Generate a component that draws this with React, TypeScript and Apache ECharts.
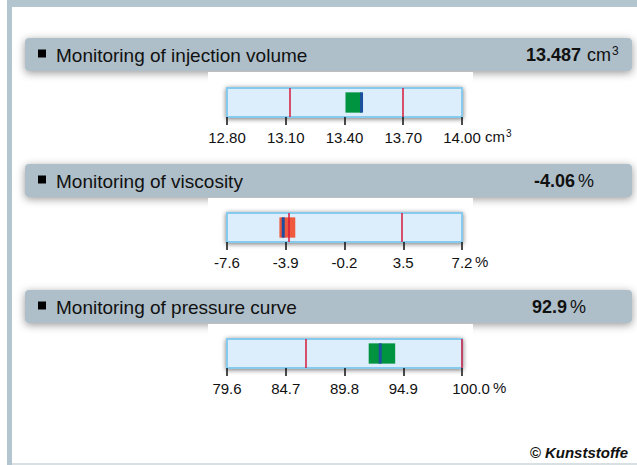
import React, { useEffect, useRef } from "react";
import * as echarts from "echarts";

// ---------- data ----------
const titles = [
  "Monitoring of injection volume",
  "Monitoring of viscosity",
  "Monitoring of pressure curve",
];
const currentValues = [13.487, -4.06, 92.9];
const currentLabels = ["13.487", "-4.06", "92.9"];
const unitBase = ["cm", "%", "%"];
const unitSup = ["3", "", ""];
const ticksVolume = [12.8, 13.1, 13.4, 13.7, 14.0];
const ticksViscosity = [-7.6, -3.9, -0.2, 3.5, 7.2];
const ticksPressure = [79.6, 84.7, 89.8, 94.9, 100.0];
const tickDecimals = [2, 1, 1];
const limitsVolume = [13.12, 13.7];
const limitsViscosity = [-3.72, 3.4];
const limitsPressure = [86.4, 100.0];
const rangeVolume = [13.405, 13.487];
const rangeViscosity = [-4.3, -3.3];
const rangePressure = [91.9, 94.2];
const rangeStatus = ["ok", "alarm", "ok"];

const allTicks = [ticksVolume, ticksViscosity, ticksPressure];
const allLimits = [limitsVolume, limitsViscosity, limitsPressure];
const allRanges = [rangeVolume, rangeViscosity, rangePressure];

// ---------- layout / style ----------
const W = 637;
const H = 465;
const FONT = "'Liberation Sans', Arial, sans-serif";
const headerTops = [38, 164, 290];
const gridTops = [88, 213, 339];
const GRID_LEFT = 227;
const GRID_W = 235;
const GRID_H = 29;
const numRight = [581, 575, 567];
const unitLeft = [587, 578, 570];
const axisUnitX = [485, 475, 493];
const lastLabelShift = [0, 0, 9];
const COLORS = {
  frame: "#b3c5ce",
  header: "#aebfc9",
  box: "#dceefb",
  boxBorder: "#86cbee",
  ok: "#009440",
  alarm: "#ef5a3e",
  marker: "#1c4f9f",
  limit: "#d71a3c",
  text: "#111111",
};

function unitText(i: number) {
  return unitSup[i] ? `{u|${unitBase[i]}}{s|${unitSup[i]}}` : `{u|${unitBase[i]}}`;
}

export default function App() {
  const ref = useRef<HTMLDivElement>(null);

  useEffect(() => {
    document.body.style.margin = "0";
    if (!ref.current) return;
    const chart = echarts.init(ref.current, undefined, { renderer: "svg" });

    const grids: any[] = [];
    const xAxes: any[] = [];
    const yAxes: any[] = [];
    const series: any[] = [];
    const graphics: any[] = [];

    // frame
    graphics.push(
      { type: "rect", z: -30, shape: { x: 7, y: 0, width: 5, height: H }, style: { fill: COLORS.frame } },
      { type: "rect", z: -30, shape: { x: 7, y: 0, width: W - 7, height: 7 }, style: { fill: COLORS.frame } },
      { type: "rect", z: -30, shape: { x: 12, y: H - 2, width: W - 12, height: 2 }, style: { fill: "#d8e0e4" } }
    );

    titles.forEach((title, i) => {
      const ticks = allTicks[i];
      const min = ticks[0];
      const max = ticks[ticks.length - 1];
      const dec = tickDecimals[i];
      const top = headerTops[i];

      graphics.push(
        {
          type: "rect",
          z: -20,
          shape: { x: 25, y: top, width: 607, height: 33, r: 4 },
          style: {
            fill: COLORS.header,
            shadowBlur: 8,
            shadowColor: "rgba(0,0,0,0.4)",
            shadowOffsetY: 2,
          },
        },
        {
          type: "rect",
          z: -10,
          shape: { x: 208, y: top + 34, width: 265, height: 60 },
          style: { fill: "#ffffff" },
        },
        {
          type: "rect",
          z: -5,
          shape: { x: 38, y: top + 11.5, width: 8, height: 8 },
          style: { fill: "#000" },
        },
        {
          type: "text",
          z: -5,
          x: 56,
          y: top + 17,
          style: {
            text: title,
            fontSize: 19,
            fontFamily: FONT,
            fill: COLORS.text,
            verticalAlign: "middle",
            align: "left",
          },
        },
        {
          type: "text",
          z: -5,
          x: numRight[i],
          y: top + 17,
          style: {
            text: currentLabels[i],
            fontSize: 18,
            fontWeight: "bold",
            fontFamily: FONT,
            fill: COLORS.text,
            verticalAlign: "middle",
            align: "right",
          },
        },
        {
          type: "text",
          z: -5,
          x: unitLeft[i],
          y: top + 17,
          style: {
            text: unitText(i),
            fontFamily: FONT,
            fill: COLORS.text,
            verticalAlign: "middle",
            align: "left",
            rich: {
              u: { fontSize: 18, fontFamily: FONT, fill: COLORS.text, lineHeight: 20 },
              s: { fontSize: 12, fontFamily: FONT, fill: COLORS.text, verticalAlign: "top", lineHeight: 12, padding: [0, 0, 0, 1] },
            },
          },
        },
        {
          type: "text",
          x: axisUnitX[i],
          y: gridTops[i] + GRID_H + 19.5,
          style: {
            text: unitText(i),
            fontFamily: FONT,
            fill: COLORS.text,
            verticalAlign: "middle",
            align: "left",
            rich: {
              u: { fontSize: 15, fontFamily: FONT, fill: COLORS.text, lineHeight: 17 },
              s: { fontSize: 10, fontFamily: FONT, fill: COLORS.text, verticalAlign: "top", lineHeight: 10, padding: [0, 0, 0, 1] },
            },
          },
        }
      );

      grids.push({
        left: GRID_LEFT,
        width: GRID_W,
        top: gridTops[i],
        height: GRID_H,
        show: true,
        backgroundColor: COLORS.box,
        borderColor: COLORS.boxBorder,
        borderWidth: 2,
        shadowBlur: 5,
        shadowColor: "rgba(0,0,0,0.55)",
        shadowOffsetY: 1,
      });

      const shift = lastLabelShift[i];
      xAxes.push({
        type: "value",
        gridIndex: i,
        min,
        max,
        axisLine: { show: false },
        splitLine: { show: false },
        axisTick: {
          show: true,
          length: 8,
          customValues: ticks,
          lineStyle: { color: COLORS.text, width: 1.5 },
        },
        axisLabel: {
          customValues: ticks,
          margin: 13,
          fontSize: 15,
          fontFamily: FONT,
          color: COLORS.text,
          formatter: (v: number) => {
            const t = v.toFixed(dec);
            if (shift && Math.abs(v - max) < 1e-9) return `{s|${t}}`;
            return t;
          },
          rich: {
            s: { padding: [0, 0, 0, shift * 2], fontSize: 15, fontFamily: FONT, color: COLORS.text },
          },
        },
      });
      yAxes.push({ type: "value", gridIndex: i, min: 0, max: 1, show: false });

      const color = rangeStatus[i] === "alarm" ? COLORS.alarm : COLORS.ok;
      series.push({
        type: "custom",
        xAxisIndex: i,
        yAxisIndex: i,
        z: 2,
        data: [allRanges[i]],
        encode: { x: [0, 1] },
        renderItem: (_p: any, api: any) => {
          const a = api.coord([api.value(0), 0.85]);
          const b = api.coord([api.value(1), 0.15]);
          return {
            type: "rect",
            shape: { x: a[0], y: a[1], width: b[0] - a[0], height: b[1] - a[1] },
            style: { fill: color },
          };
        },
      });
      series.push({
        type: "custom",
        xAxisIndex: i,
        yAxisIndex: i,
        z: 3,
        data: [[currentValues[i]]],
        encode: { x: 0 },
        renderItem: (_p: any, api: any) => {
          const a = api.coord([api.value(0), 0.85]);
          const b = api.coord([api.value(0), 0.15]);
          return {
            type: "rect",
            shape: { x: a[0] - 1.5, y: a[1], width: 3, height: b[1] - a[1] },
            style: { fill: COLORS.marker },
          };
        },
        markLine: {
          silent: true,
          symbol: "none",
          label: { show: false },
          lineStyle: { color: COLORS.limit, width: 1.5, type: "solid" },
          data: allLimits[i].map((v) => ({ xAxis: v })),
        },
      });
    });

    graphics.push({
      type: "text",
      x: 628,
      y: 452,
      style: {
        text: "© Kunststoffe",
        fontSize: 15,
        fontWeight: "bold",
        fontStyle: "italic",
        fontFamily: FONT,
        fill: COLORS.text,
        align: "right",
        verticalAlign: "middle",
      },
    });

    chart.setOption({
      animation: false,
      backgroundColor: "#ffffff",
      grid: grids,
      xAxis: xAxes,
      yAxis: yAxes,
      series,
      graphic: graphics,
    });

    return () => chart.dispose();
  }, []);

  return (
    <div
      ref={ref}
      style={{ width: W, height: H, position: "absolute", left: 0, top: 0 }}
    />
  );
}
